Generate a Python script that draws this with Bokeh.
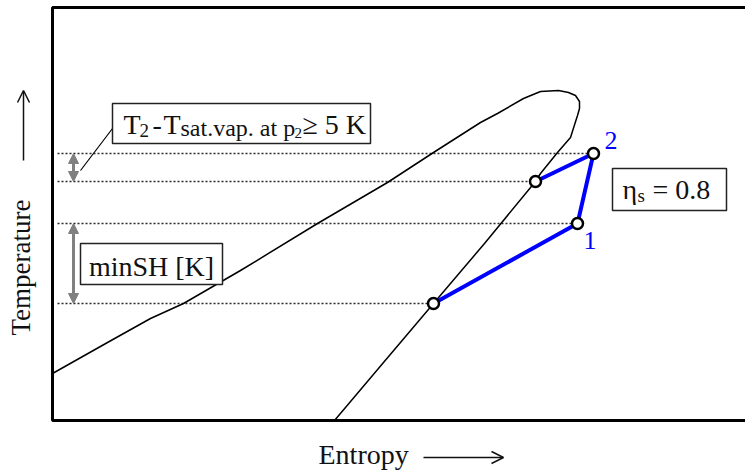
import math
from bokeh.plotting import figure
from bokeh.models import (Range1d, BoxAnnotation, Label, Arrow, NormalHead, OpenHead)
from bokeh.embed import file_html
from bokeh.resources import INLINE

# ---------------- data (arbitrary units: entropy s, temperature T) ----------------
dome_s = [0, 55, 98, 131, 188, 265, 335, 381, 428, 445, 471, 488, 506, 516, 523,
          527, 527, 525, 518, 505, 488, 483, 432, 381, 331, 282]
dome_T = [47, 78, 102, 117, 150, 197, 238, 268, 298, 307, 322, 329, 330, 328, 325,
          319, 312, 305, 283, 268, 247, 239, 177, 117, 58, 0]

# compressor process: sat-vapour @p1+minSH (A) -> 1 -> 2 -> sat-vapour @p2 (B)
proc_names = ["A", "1", "2", "B"]
proc_s = [381, 525, 541, 483]
proc_T = [117, 197, 267, 239]

FONT = "Liberation Serif"
INK = "#111111"

# diagram window: s from 0 to beyond the right edge, T from 0 to 413
S_MAX, T_MAX = 693, 413

p = figure(width=745, height=470, output_backend="svg", toolbar_location=None,
           x_range=Range1d(-52, 693), y_range=Range1d(-50, 420),
           x_axis_type=None, y_axis_type=None,
           min_border_left=0, min_border_right=0, min_border_top=0, min_border_bottom=0)
p.outline_line_color = None
p.grid.visible = False
p.background_fill_color = "white"
p.border_fill_color = "white"

# diagram frame (open on the right side, which runs off the page)
p.add_layout(BoxAnnotation(left=0, right=S_MAX + 20, bottom=0, top=T_MAX,
                           fill_alpha=0, line_color="black", line_width=3, line_alpha=1))

def lab(x, y, text, size, color=INK, align="left", angle=0.0):
    p.add_layout(Label(x=x, y=y, text=text, text_font=FONT, text_font_size=f"{size}px",
                       text_color=color, text_baseline="alphabetic", text_align=align,
                       angle=angle))

# axis titles with direction arrows
lab(266, -34, "Entropy", 28)
p.add_layout(Arrow(x_start=371, y_start=-37, x_end=451, y_end=-37, line_color=INK,
                   line_width=1.5, end=OpenHead(size=12, line_width=1.5, line_color=INK)))
lab(-32, 85, "Temperature", 27, angle=math.pi / 2)
p.add_layout(Arrow(x_start=-29, y_start=260, x_end=-29, y_end=330, line_color=INK,
                   line_width=1.5, end=OpenHead(size=12, line_width=1.5, line_color=INK)))

# horizontal dotted level lines
DOT_START = 5
p.segment(x0=[DOT_START] * len(proc_T), y0=proc_T, x1=proc_s, y1=proc_T,
          line_color="#2a2a2a", line_width=1.3, line_dash="2 2")

# saturation dome
p.line(dome_s, dome_T, line_color="black", line_width=1.5)

# process lines
p.line(proc_s, proc_T, line_color="#0000FF", line_width=4)
p.scatter(proc_s, proc_T, size=11, fill_color="white", line_color="black", line_width=2.5)

# gray double arrows
ARROW_S = 21
for (t0, t1) in [(proc_T[2], proc_T[3]), (proc_T[1], proc_T[0])]:
    p.add_layout(Arrow(x_start=ARROW_S, y_start=t0, x_end=ARROW_S, y_end=t1,
                       line_color="#808080", line_width=3,
                       start=NormalHead(size=10, fill_color="#808080", line_color="#808080"),
                       end=NormalHead(size=10, fill_color="#808080", line_color="#808080")))

# leader line from annotation box to small arrow
p.segment(x0=[28], y0=[250], x1=[60], y1=[292], line_color="black", line_width=1.2)

# annotation boxes
for (l, r, b, t) in [(60, 318, 277, 317), (28, 170, 136, 177), (560, 674, 210, 252)]:
    p.add_layout(BoxAnnotation(left=l, right=r, bottom=b, top=t, fill_color="white",
                               fill_alpha=1.0, line_color="#222222", line_width=1.5,
                               line_alpha=1.0))

# T2 - Tsat.vap. at p2 >= 5 K
lab(71, 296, "T", 28)
lab(87, 290, "2", 19)
lab(100, 296, "-", 28)
lab(111, 296, "T", 28)
lab(128, 293, "sat.vap. at p", 24)
lab(242, 288, "2", 15)
lab(250, 296, "\u2265 5 K", 28)

# minSH [K]
lab(99, 154, "minSH [K]", 28, align="center")

# eta_s = 0.8
lab(570, 231, "\u03b7", 28)
lab(585, 225, "s", 19)
lab(600, 231, "= 0.8", 28)

# state point labels
lab(552, 280, "2", 26, color="#0000FF")
lab(531, 180, "1", 26, color="#0000FF")

open("out.html", "w").write(file_html(p, INLINE))
